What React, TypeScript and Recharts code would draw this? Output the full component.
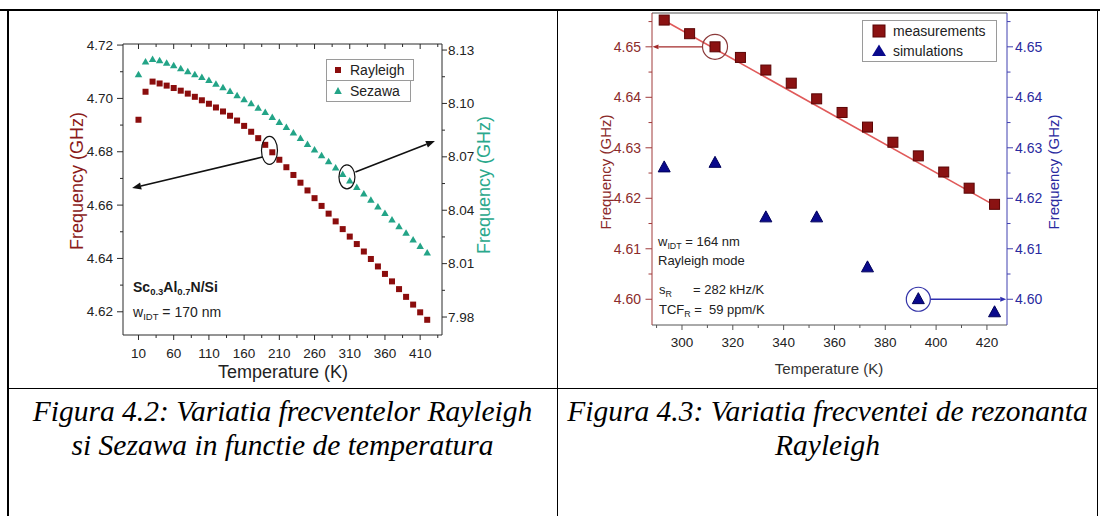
import React from 'react';
import {
  ComposedChart,
  Scatter,
  Line,
  XAxis,
  YAxis,
  ReferenceLine,
  ReferenceDot,
} from 'recharts';

// ---- Figura 4.2 : Rayleigh / Sezawa vs temperature ----
const leftTemps = [
  10, 20, 30, 40, 50, 60, 70, 80, 90, 100, 110, 120, 130, 140, 150, 160, 170, 180, 190, 200, 210,
  220, 230, 240, 250, 260, 270, 280, 290, 300, 310, 320, 330, 340, 350, 360, 370, 380, 390, 400,
  410, 420,
];
const rayleighGHz = [
  4.692, 4.7025, 4.7063, 4.7056, 4.7048, 4.7039, 4.7029, 4.7018, 4.7006, 4.6993, 4.698, 4.6966,
  4.6951, 4.6935, 4.6917, 4.6897, 4.6875, 4.6851, 4.6826, 4.6798, 4.677, 4.6742, 4.6713, 4.6684,
  4.6655, 4.6626, 4.6597, 4.6568, 4.6539, 4.651, 4.6482, 4.6454, 4.6426, 4.6398, 4.637, 4.6342,
  4.6314, 4.6285, 4.6256, 4.6227, 4.6198, 4.617,
];
const sezawaGHz = [
  8.1162, 8.1234, 8.1247, 8.124, 8.1227, 8.1213, 8.1196, 8.1179, 8.1162, 8.1146, 8.1129, 8.1109,
  8.1089, 8.1067, 8.1044, 8.1022, 8.0999, 8.0974, 8.0949, 8.0921, 8.0893, 8.0865, 8.0834, 8.0803,
  8.077, 8.0739, 8.0706, 8.0673, 8.0638, 8.0602, 8.0565, 8.0529, 8.0492, 8.0456, 8.0419, 8.0382,
  8.0345, 8.0308, 8.0271, 8.0234, 8.0197, 8.016,
];
const leftXTicks = [10, 35, 60, 85, 110, 135, 160, 185, 210, 235, 260, 285, 310, 335, 360, 385, 410, 435];
const leftXMajor = [10, 60, 110, 160, 210, 260, 310, 360, 410];
const leftYTicks = [4.62, 4.63, 4.64, 4.65, 4.66, 4.67, 4.68, 4.69, 4.7, 4.71, 4.72];
const leftYMajor = [4.62, 4.64, 4.66, 4.68, 4.7, 4.72];
const sezYTicks = [7.98, 7.995, 8.01, 8.025, 8.04, 8.055, 8.07, 8.085, 8.1, 8.115, 8.13];
const sezYMajor = [7.98, 8.01, 8.04, 8.07, 8.1, 8.13];

// ---- Figura 4.3 : Rayleigh resonance, measured vs simulated ----
const measTemps = [293, 303, 313, 323, 333, 343, 353, 363, 373, 383, 393, 403, 413, 423];
const measGHz = [
  4.6553, 4.6526, 4.65, 4.6479, 4.6454, 4.6428, 4.6397, 4.637, 4.6341, 4.6311, 4.6284, 4.6252,
  4.622, 4.6188,
];
const simTemps = [293, 313, 333, 353, 373, 393, 423];
const simGHz = [4.6261, 4.627, 4.6162, 4.6162, 4.6063, 4.6, 4.5974];
const fitTemps = [293, 423];
const fitGHz = [4.6552, 4.6186];
const rXTicks = [290, 300, 310, 320, 330, 340, 350, 360, 370, 380, 390, 400, 410, 420];
const rXMajor = [300, 320, 340, 360, 380, 400, 420];
const rYTicks = [4.6, 4.605, 4.61, 4.615, 4.62, 4.625, 4.63, 4.635, 4.64, 4.645, 4.65, 4.655];
const rYMajor = [4.6, 4.61, 4.62, 4.63, 4.64, 4.65];

const pts = (ts: number[], fs: number[]) => ts.map((t, i) => ({ t, f: fs[i] }));

const RAY = '#8b0d0d';
const SEZ = '#23a487';
const NAVY = '#0a0a8c';
const AX_RED = '#a03a3a';
const AX_BLUE = '#4040b0';
const SANS = '"Liberation Sans", Arial, sans-serif';

const TM = 12;

type TickCfg = {
  side: 'left' | 'right' | 'bottom' | 'top';
  majors: number[];
  digits: number;
  majorLen: number;
  minorLen: number;
  gap: number;
  stroke: string;
  color: string;
  fontSize: number;
  inward?: boolean;
  noLabel?: boolean;
};

const isIn = (arr: number[], v: number) => arr.some((m) => Math.abs(m - v) < 1e-6);

function makeTick(c: TickCfg) {
  return (p: any) => {
    const v = p.payload.value as number;
    const major = isIn(c.majors, v);
    const len = major ? c.majorLen : c.minorLen;
    const s = c.inward ? -1 : 1;
    const label = major && !c.noLabel ? v.toFixed(c.digits) : null;
    const txt = { fill: c.color, fontSize: c.fontSize, fontFamily: SANS };
    if (c.side === 'bottom' || c.side === 'top') {
      const dir = c.side === 'bottom' ? 1 : -1;
      const ay = p.y - dir * TM;
      return (
        <g>
          <line x1={p.x} x2={p.x} y1={ay} y2={ay + dir * s * len} stroke={c.stroke} />
          {label && (
            <text x={p.x} y={ay + dir * c.gap} textAnchor="middle" dominantBaseline="central" {...txt}>
              {label}
            </text>
          )}
        </g>
      );
    }
    const dir = c.side === 'right' ? 1 : -1;
    const ax = p.x - dir * TM;
    return (
      <g>
        <line x1={ax} x2={ax + dir * s * len} y1={p.y} y2={p.y} stroke={c.stroke} />
        {label && (
          <text
            x={ax + dir * c.gap}
            y={p.y}
            textAnchor={dir > 0 ? 'start' : 'end'}
            dominantBaseline="central"
            {...txt}
          >
            {label}
          </text>
        )}
      </g>
    );
  };
}

const squareShape = (size: number, fill: string, stroke = 'none') => (p: any) => (
  <rect x={p.cx - size / 2} y={p.cy - size / 2} width={size} height={size} fill={fill} stroke={stroke} />
);

const triShape = (w: number, h: number, fill: string, stroke = 'none') => (p: any) => (
  <polygon
    points={`${p.cx},${p.cy - h * 0.6} ${p.cx - w / 2},${p.cy + h * 0.4} ${p.cx + w / 2},${p.cy + h * 0.4}`}
    fill={fill}
    stroke={stroke}
  />
);

const ellipse = (rx: number, ry: number, stroke: string) => (p: any) => (
  <ellipse cx={p.cx} cy={p.cy} rx={rx} ry={ry} fill="none" stroke={stroke} strokeWidth={1.2} />
);

const arrow = (color: string, width = 1.5, head = 8) => (p: any) => {
  const { x1, y1, x2, y2 } = p;
  const a = Math.atan2(y2 - y1, x2 - x1);
  const bx = x2 - head * Math.cos(a);
  const by = y2 - head * Math.sin(a);
  const hw = head * 0.4;
  const lx = bx + hw * Math.sin(a);
  const ly = by - hw * Math.cos(a);
  const rx = bx - hw * Math.sin(a);
  const ry = by + hw * Math.cos(a);
  return (
    <g>
      <line x1={x1} y1={y1} x2={bx} y2={by} stroke={color} strokeWidth={width} />
      <polygon points={`${x2},${y2} ${lx},${ly} ${rx},${ry}`} fill={color} />
    </g>
  );
};

const Txt = ({
  x,
  y,
  children,
  style,
  center,
  rotate,
}: {
  x: number;
  y: number;
  children: React.ReactNode;
  style?: React.CSSProperties;
  center?: boolean;
  rotate?: boolean;
}) => (
  <div
    style={{
      position: 'absolute',
      left: x,
      top: y,
      whiteSpace: 'nowrap',
      lineHeight: 1,
      fontFamily: SANS,
      transform: rotate
        ? 'translate(-50%,-50%) rotate(-90deg)'
        : center
          ? 'translate(-50%,-50%)'
          : 'translateY(-50%)',
      ...style,
    }}
  >
    {children}
  </div>
);

const Sub = ({ children }: { children: React.ReactNode }) => (
  <span style={{ fontSize: '0.68em', position: 'relative', top: '0.35em' }}>{children}</span>
);

function LeftChart() {
  const ray = pts(leftTemps, rayleighGHz);
  const sez = pts(leftTemps, sezawaGHz);
  const dark = '#2a2a2a';
  return (
    <div style={{ position: 'absolute', left: 0, top: 0 }}>
      <ComposedChart width={560} height={390} margin={{ top: 43, left: 83, right: 78, bottom: 25 }}>
        <XAxis
          xAxisId="b"
          type="number"
          dataKey="t"
          domain={[-12, 441]}
          allowDataOverflow
          ticks={leftXTicks}
          interval={0}
          tickSize={0}
          tickMargin={TM}
          height={30}
          axisLine={{ stroke: dark }}
          tickLine={false}
          tick={makeTick({ side: 'bottom', majors: leftXMajor, digits: 0, majorLen: 5, minorLen: 3, gap: 18, stroke: dark, color: '#222', fontSize: 13.5 })}
        />
        <XAxis
          xAxisId="t"
          orientation="top"
          type="number"
          dataKey="t"
          domain={[-12, 441]}
          allowDataOverflow
          ticks={leftXTicks}
          interval={0}
          tickSize={0}
          tickMargin={TM}
          height={1}
          axisLine={{ stroke: dark }}
          tickLine={false}
          tick={makeTick({ side: 'top', majors: leftXMajor, digits: 0, majorLen: 5, minorLen: 3, gap: 0, stroke: dark, color: '#222', fontSize: 12, inward: true, noLabel: true })}
        />
        <YAxis
          yAxisId="l"
          type="number"
          dataKey="f"
          domain={[4.6113, 4.7204]}
          allowDataOverflow
          ticks={leftYTicks}
          interval={0}
          tickSize={0}
          tickMargin={TM}
          width={40}
          axisLine={{ stroke: dark }}
          tickLine={false}
          tick={makeTick({ side: 'left', majors: leftYMajor, digits: 2, majorLen: 6, minorLen: 3, gap: 10, stroke: dark, color: '#222', fontSize: 13.5 })}
        />
        <YAxis
          yAxisId="r"
          orientation="right"
          type="number"
          dataKey="f"
          domain={[7.9699, 8.1334]}
          allowDataOverflow
          ticks={sezYTicks}
          interval={0}
          tickSize={0}
          tickMargin={TM}
          width={40}
          axisLine={{ stroke: dark }}
          tickLine={false}
          tick={makeTick({ side: 'right', majors: sezYMajor, digits: 2, majorLen: 5, minorLen: 3, gap: 6, stroke: dark, color: '#222', fontSize: 13.5 })}
        />
        <Scatter
          name="Rayleigh"
          data={ray}
          xAxisId="b"
          yAxisId="l"
          shape={squareShape(6, RAY)}
          isAnimationActive={false}
        />
        <Scatter
          name="Sezawa"
          data={sez}
          xAxisId="b"
          yAxisId="r"
          shape={triShape(7.5, 6.5, SEZ)}
          isAnimationActive={false}
        />
        <ReferenceDot xAxisId="b" yAxisId="l" x={196} y={4.6805} shape={ellipse(8, 14, '#111')} />
        <ReferenceDot xAxisId="b" yAxisId="r" x={306} y={8.0587} shape={ellipse(8, 12, '#111')} />
        <ReferenceLine
          xAxisId="b"
          yAxisId="l"
          segment={[
            { x: 186, y: 4.678 },
            { x: 1, y: 4.6664 },
          ]}
          shape={arrow('#111', 1.6, 9)}
        />
        <ReferenceLine
          xAxisId="b"
          yAxisId="r"
          segment={[
            { x: 318, y: 8.0615 },
            { x: 431, y: 8.0789 },
          ]}
          shape={arrow('#111', 1.6, 9)}
        />
      </ComposedChart>

      {/* legend */}
      <div style={{ position: 'absolute', left: 326, top: 59, width: 88, height: 22, border: '1px solid #9a9a9a', boxSizing: 'border-box' }} />
      <div style={{ position: 'absolute', left: 326, top: 80, width: 85, height: 22, border: '1px solid #9a9a9a', boxSizing: 'border-box' }} />
      <svg style={{ position: 'absolute', left: 0, top: 0 }} width={560} height={390}>
        <rect x={335} y={67} width={6} height={6} fill={RAY} />
        <polygon points="338,87 334.2,94 341.8,94" fill={SEZ} />
      </svg>
      <Txt x={350} y={70} style={{ fontSize: 14, color: '#222' }}>Rayleigh</Txt>
      <Txt x={350} y={91} style={{ fontSize: 14, color: '#222' }}>Sezawa</Txt>

      <Txt x={133} y={287} style={{ fontSize: 14, fontWeight: 'bold', color: '#1a1a1a' }}>
        Sc<Sub>0.3</Sub>Al<Sub>0.7</Sub>N/Si
      </Txt>
      <Txt x={133} y={312} style={{ fontSize: 14, color: '#222' }}>
        w<Sub>IDT</Sub> = 170 nm
      </Txt>

      <Txt x={77} y={181} rotate style={{ fontSize: 18, color: '#8b1a1a' }}>Frequency (GHz)</Txt>
      <Txt x={484} y={185} rotate style={{ fontSize: 18, color: '#2aa88c' }}>Frequency (GHz)</Txt>
      <Txt x={283} y={372} center style={{ fontSize: 18, color: '#222' }}>Temperature (K)</Txt>
    </div>
  );
}

function RightChart() {
  const meas = pts(measTemps, measGHz);
  const sim = pts(simTemps, simGHz);
  const fit = pts(fitTemps, fitGHz);
  const gray = '#555';
  return (
    <div style={{ position: 'absolute', left: 560, top: 0 }}>
      <ComposedChart width={540} height={390} margin={{ top: 12, left: 52, right: 53, bottom: 35 }}>
        <XAxis
          xAxisId="b"
          type="number"
          dataKey="t"
          domain={[288.2, 427.9]}
          allowDataOverflow
          ticks={rXTicks}
          interval={0}
          tickSize={0}
          tickMargin={TM}
          height={30}
          axisLine={{ stroke: gray }}
          tickLine={false}
          tick={makeTick({ side: 'bottom', majors: rXMajor, digits: 0, majorLen: 5, minorLen: 3, gap: 17.5, stroke: gray, color: '#222', fontSize: 13.5 })}
        />
        <XAxis
          xAxisId="t"
          orientation="top"
          type="number"
          dataKey="t"
          domain={[288.2, 427.9]}
          allowDataOverflow
          height={1}
          axisLine={{ stroke: gray }}
          tickLine={false}
          tick={false}
        />
        <YAxis
          yAxisId="l"
          type="number"
          dataKey="f"
          domain={[4.5949, 4.6567]}
          allowDataOverflow
          ticks={rYTicks}
          interval={0}
          tickSize={0}
          tickMargin={TM}
          width={40}
          axisLine={{ stroke: AX_RED }}
          tickLine={false}
          tick={makeTick({ side: 'left', majors: rYMajor, digits: 2, majorLen: 6.5, minorLen: 3.5, gap: 11, stroke: AX_RED, color: '#8b2b2b', fontSize: 14 })}
        />
        <YAxis
          yAxisId="r"
          orientation="right"
          type="number"
          dataKey="f"
          domain={[4.5949, 4.6567]}
          allowDataOverflow
          ticks={rYTicks}
          interval={0}
          tickSize={0}
          tickMargin={TM}
          width={40}
          axisLine={{ stroke: AX_BLUE }}
          tickLine={false}
          tick={makeTick({ side: 'right', majors: rYMajor, digits: 2, majorLen: 6, minorLen: 3.5, gap: 8, stroke: AX_BLUE, color: '#2a2aa0', fontSize: 14 })}
        />
        <Line
          data={fit}
          xAxisId="b"
          yAxisId="l"
          dataKey="f"
          stroke="#e05a5a"
          strokeWidth={1.6}
          dot={false}
          isAnimationActive={false}
        />
        <Scatter
          name="measurements"
          data={meas}
          xAxisId="b"
          yAxisId="l"
          shape={squareShape(10, '#8b1212', '#5a0404')}
          isAnimationActive={false}
        />
        <Scatter
          name="simulations"
          data={sim}
          xAxisId="b"
          yAxisId="r"
          shape={triShape(12, 11, NAVY, '#00005a')}
          isAnimationActive={false}
        />
        <ReferenceDot xAxisId="b" yAxisId="l" x={313} y={4.65} shape={ellipse(12.5, 12.5, '#8b3a3a')} />
        <ReferenceDot xAxisId="b" yAxisId="r" x={393} y={4.6} shape={ellipse(12, 12, '#3434a8')} />
        <ReferenceLine
          xAxisId="b"
          yAxisId="l"
          segment={[
            { x: 308, y: 4.65 },
            { x: 288.4, y: 4.65 },
          ]}
          shape={arrow('#a32a2a', 1.3, 6)}
        />
        <ReferenceLine
          xAxisId="b"
          yAxisId="r"
          segment={[
            { x: 397.8, y: 4.6 },
            { x: 427.6, y: 4.6 },
          ]}
          shape={arrow('#2f2fb0', 1.3, 6)}
        />
      </ComposedChart>

      {/* legend */}
      <div
        style={{
          position: 'absolute',
          left: 862 - 560,
          top: 20,
          width: 135,
          height: 42,
          border: '1px solid #9a9a9a',
          boxSizing: 'border-box',
        }}
      />
      <svg style={{ position: 'absolute', left: 0, top: 0 }} width={540} height={390}>
        <rect x={879 - 560 - 6} y={25} width={12} height={12} fill="#8b1212" stroke="#5a0404" />
        <polygon points={`${879 - 560},44.5 ${879 - 560 - 7},56 ${879 - 560 + 7},56`} fill={NAVY} />
      </svg>
      <Txt x={893 - 560} y={31} style={{ fontSize: 14, color: '#222' }}>measurements</Txt>
      <Txt x={893 - 560} y={51} style={{ fontSize: 14, color: '#222' }}>simulations</Txt>

      <Txt x={658 - 560} y={241} style={{ fontSize: 13, color: '#222' }}>
        w<Sub>IDT</Sub> = 164 nm
      </Txt>
      <Txt x={658 - 560} y={260} style={{ fontSize: 13, color: '#222' }}>Rayleigh mode</Txt>
      <Txt x={659 - 560} y={289} style={{ fontSize: 13, color: '#222' }}>
        s<Sub>R</Sub>
      </Txt>
      <Txt x={693 - 560} y={289} style={{ fontSize: 13, color: '#222' }}>= 282 kHz/K</Txt>
      <Txt x={659 - 560} y={309} style={{ fontSize: 13, color: '#222' }}>
        TCF<Sub>R</Sub> =
      </Txt>
      <Txt x={709 - 560} y={309} style={{ fontSize: 13, color: '#222' }}>59 ppm/K</Txt>

      <Txt x={605 - 560} y={172} rotate style={{ fontSize: 15, color: '#8b2a2a' }}>Frequency (GHz)</Txt>
      <Txt x={1053 - 560} y={172} rotate style={{ fontSize: 15, color: '#2a2aa0' }}>Frequency (GHz)</Txt>
      <Txt x={829 - 560} y={368} center style={{ fontSize: 15, color: '#333' }}>Temperature (K)</Txt>
    </div>
  );
}

const caption: React.CSSProperties = {
  position: 'absolute',
  top: 394,
  textAlign: 'center',
  fontFamily: '"Liberation Serif", "Times New Roman", serif',
  fontStyle: 'italic',
  fontSize: 29.5,
  lineHeight: '34px',
  color: '#000',
  whiteSpace: 'nowrap',
};

export default function App() {
  const line = '#000';
  return (
    <div
      style={{
        position: 'absolute',
        left: 0,
        top: 0,
        width: 1100,
        height: 516,
        background: '#fff',
        overflow: 'hidden',
      }}
    >
      <LeftChart />
      <RightChart />

      {/* table frame */}
      <div style={{ position: 'absolute', left: 0, top: 9, width: 1100, height: 2, background: line }} />
      <div style={{ position: 'absolute', left: 7, top: 10, width: 1.5, height: 506, background: line }} />
      <div style={{ position: 'absolute', left: 556.5, top: 10, width: 1.5, height: 506, background: line }} />
      <div style={{ position: 'absolute', left: 1096.5, top: 10, width: 1.5, height: 506, background: line }} />
      <div style={{ position: 'absolute', left: 7, top: 387.5, width: 1091, height: 1.5, background: line }} />

      <div style={{ ...caption, left: 8, width: 549 }}>
        Figura 4.2: Variatia frecventelor Rayleigh
        <br />
        si Sezawa in functie de temperatura
      </div>
      <div style={{ ...caption, left: 558, width: 539 }}>
        Figura 4.3: Variatia frecventei de rezonanta
        <br />
        Rayleigh
      </div>
    </div>
  );
}
